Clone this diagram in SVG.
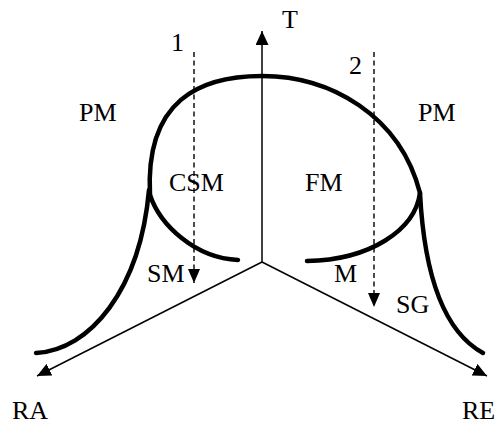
<svg xmlns="http://www.w3.org/2000/svg" width="498" height="426" viewBox="0 0 498 426">
  <style>
    .lbl { font-family: "Liberation Serif", "Times New Roman", serif; font-size: 26px; fill: #000; }
    .axis { stroke: #000; stroke-width: 1.5; fill: none; }
    .thick { stroke: #000; stroke-width: 4.5; fill: none; stroke-linecap: round; }
    .dash { stroke: #000; stroke-width: 1.4; fill: none; stroke-dasharray: 5 3.5; }
  </style>
  <defs>
    <marker id="arr" markerUnits="userSpaceOnUse" markerWidth="14" markerHeight="13" refX="14" refY="6.5" orient="auto" viewBox="0 0 14 13">
      <path d="M0,0 L14,6.5 L0,13 z" fill="#000"/>
    </marker>
    <marker id="arrs" markerUnits="userSpaceOnUse" markerWidth="14" markerHeight="12" refX="14" refY="6" orient="auto" viewBox="0 0 14 12">
      <path d="M0,0 L14,6 L0,12 z" fill="#000"/>
    </marker>
  </defs>

  <g id="axes">
    <line id="axis-T" class="axis" x1="262" y1="262" x2="262" y2="31" marker-end="url(#arr)"/>
    <line id="axis-RA" class="axis" x1="262" y1="262" x2="37" y2="376" marker-end="url(#arr)"/>
    <line id="axis-RE" class="axis" x1="262" y1="262" x2="487" y2="376" marker-end="url(#arr)"/>
  </g>

  <g id="curves">
    <path id="loop" class="thick" d="M150,195 C145,100 200,76 262,76 C330,76 400,115 420,193"/>
    <path id="left-inner" class="thick" d="M150,195 C160,225 195,258 238,260"/>
    <path id="right-inner" class="thick" d="M420,193 C415,230 370,260 307,261"/>
    <path id="left-outer" class="thick" d="M149,190 C140,290 90,350 36,353"/>
    <path id="right-outer" class="thick" d="M420,193 C425,290 450,335 483,353"/>
  </g>

  <g id="paths">
    <line id="path1" class="dash" x1="194" y1="52" x2="194" y2="283" marker-end="url(#arrs)"/>
    <line id="path2" class="dash" x1="374" y1="52" x2="374" y2="307" marker-end="url(#arrs)"/>
  </g>

  <g id="labels">
    <text class="lbl" x="282" y="28">T</text>
    <text class="lbl" x="171" y="51">1</text>
    <text class="lbl" x="349" y="74">2</text>
    <text class="lbl" x="79" y="121">PM</text>
    <text class="lbl" x="418" y="121">PM</text>
    <text class="lbl" x="169" y="191">CSM</text>
    <text class="lbl" x="305" y="191">FM</text>
    <text class="lbl" x="147" y="282">SM</text>
    <text class="lbl" x="334" y="282">M</text>
    <text class="lbl" x="396" y="313">SG</text>
    <text class="lbl" x="12" y="419">RA</text>
    <text class="lbl" x="462" y="419">RE</text>
  </g>
</svg>
